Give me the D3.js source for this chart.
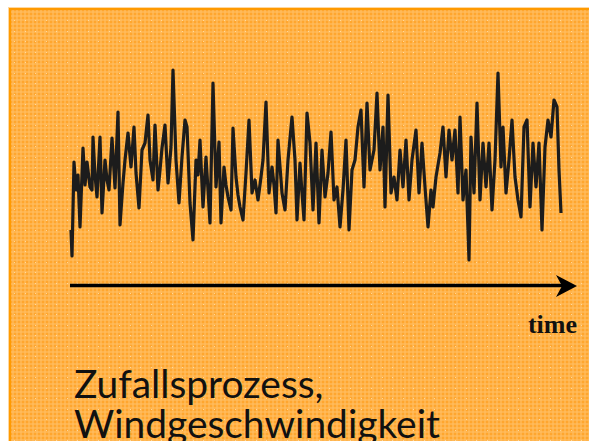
<!DOCTYPE html>
<html><head><meta charset="utf-8">
<script src="https://cdn.jsdelivr.net/npm/d3@7"></script>
<style>html,body{margin:0;padding:0;background:#fff;overflow:hidden}</style>
</head><body>
<script>
// time (arbitrary units) and wind speed values
const times = [0,1,3,5,7,9,12,14,16,19,21,22,24,26,29,31,34,36,38,41,44,47,49,52,54,57,60,63,65,68,71,74,77,79,82,84,87,89,91,94,97,100,102,105,108,111,114,116,119,122,125,127,129,132,135,139,142,145,148,150,153,155,157,160,162,165,167,169,172,175,178,181,184,187,190,192,195,198,201,203,205,207,211,214,217,221,224,226,229,231,233,236,239,242,245,248,251,254,257,260,263,266,269,272,275,278,281,284,287,290,293,296,299,303,306,309,312,314,317,320,323,326,329,332,335,338,341,345,348,351,354,357,360,362,365,369,372,375,378,381,384,387,389,392,395,398,400,403,406,409,412,415,418,421,424,427,430,432,435,438,441,444,447,450,453,456,459,462,465,468,471,474,477,480,483,486,488,490];
const speed = [3.5,0.9,10.3,7.5,9.0,3.8,11.7,8.0,10.3,7.8,7.5,12.8,9.0,6.8,12.8,5.2,10.5,8.5,7.5,12.7,7.7,15.3,4.0,8.2,10.5,13.2,9.8,13.8,9.2,5.7,11.5,12.2,15.0,10.5,8.5,14.0,7.5,9.5,11.7,14.0,8.2,11.8,19.5,10.5,6.2,10.8,14.5,13.8,6.2,2.5,10.5,9.0,12.5,5.8,10.8,4.2,18.2,7.8,12.3,4.2,9.8,8.0,6.8,5.5,13.7,8.8,7.0,5.8,4.5,9.2,14.5,7.2,8.5,6.5,8.8,10.5,16.3,7.2,9.8,8.0,5.2,12.5,7.2,5.5,10.5,14.8,10.5,4.5,10.2,7.2,4.5,15.2,12.2,5.5,12.2,4.2,11.5,6.8,9.2,13.3,6.5,7.8,3.8,7.5,12.5,3.5,9.5,10.5,13.8,15.5,7.8,16.2,9.5,11.5,17.2,9.5,13.8,5.8,17.0,7.2,8.8,6.5,11.5,7.8,12.5,6.5,10.5,13.5,7.2,12.2,7.8,3.8,7.5,5.8,8.8,11.2,13.8,8.8,13.5,10.5,13.5,7.2,14.8,6.5,9.5,0.5,12.8,7.2,16.2,6.5,12.2,7.8,12.2,5.5,10.5,19.2,9.8,13.8,7.2,10.5,14.5,8.8,6.5,4.8,13.8,14.5,5.8,12.2,7.8,12.2,3.5,11.8,14.5,12.8,16.5,15.8,9.5,5.2];
const axisLabel = "time";
const titleLines = ["Zufallsprozess,", "Windgeschwindigkeit"];

const W = 589, H = 441;
const svg = d3.select("body").append("svg").attr("width", W).attr("height", H);
const defs = svg.append("defs");
const pat = defs.append("pattern").attr("id","tex").attr("patternUnits","userSpaceOnUse")
  .attr("width",4).attr("height",4).attr("x",10).attr("y",9);
pat.append("rect").attr("width",4).attr("height",4).attr("fill","#FFA62E");
pat.append("rect").attr("x",0).attr("y",2).attr("width",4).attr("height",2).attr("fill","#FFBE62").attr("opacity",0.6);
pat.append("rect").attr("x",2).attr("y",0).attr("width",2).attr("height",4).attr("fill","#FFBE62").attr("opacity",0.6);

// panel
svg.append("rect").attr("x",8.5).attr("y",7.5).attr("width",W).attr("height",H)
  .attr("fill","none").attr("stroke","#FFD8A0").attr("stroke-width",1);
svg.append("rect").attr("x",10).attr("y",9).attr("width",W).attr("height",H)
  .attr("fill","url(#tex)").attr("stroke","#FF9A00").attr("stroke-width",2);
// faint dots
const dots = svg.append("g").attr("fill","#FFE2B0").attr("opacity",0.8);
for (let yy = 20; yy < H; yy += 10.5) for (let xx = 14; xx < W; xx += 10.5)
  dots.append("rect").attr("x",Math.round(xx)).attr("y",Math.round(yy)).attr("width",1).attr("height",1);

const x = d3.scaleLinear().domain([0, 490]).range([71, 561]);
const y = d3.scaleLinear().domain([0, 20]).range([265, 65]);

const line = d3.line().x((d,i)=>x(times[i])).y(d=>y(d));
svg.append("path").datum(speed).attr("d", line)
  .attr("fill","none").attr("stroke","#1c1c1c").attr("stroke-width",3.2)
  .attr("stroke-linejoin","round");

// time axis arrow
svg.append("line").attr("x1",70).attr("x2",565).attr("y1",285.5).attr("y2",285.5)
  .attr("stroke","#000").attr("stroke-width",3.6);
svg.append("path").attr("d","M577,286 L556,275 L562,286 L556,297 Z").attr("fill","#000");
svg.append("text").attr("x",577).attr("y",333).attr("text-anchor","end")
  .attr("font-family","'Liberation Serif', 'DejaVu Serif', serif").attr("font-weight","bold")
  .attr("font-size",26).attr("fill","#111").text(axisLabel);

// title
const tg = svg.append("g").attr("font-family","Lato, 'Open Sans', sans-serif").attr("fill","#111");
const t1 = tg.append("text").attr("x",74).attr("y",398).text(titleLines[0]);
const t2 = tg.append("text").attr("x",74).attr("y",438).text(titleLines[1]);
tg.attr("font-size",36);
const w2 = t2.node().getComputedTextLength();
const fs = 36 * 366 / w2;
tg.attr("font-size", fs);
</script>
</body></html>
